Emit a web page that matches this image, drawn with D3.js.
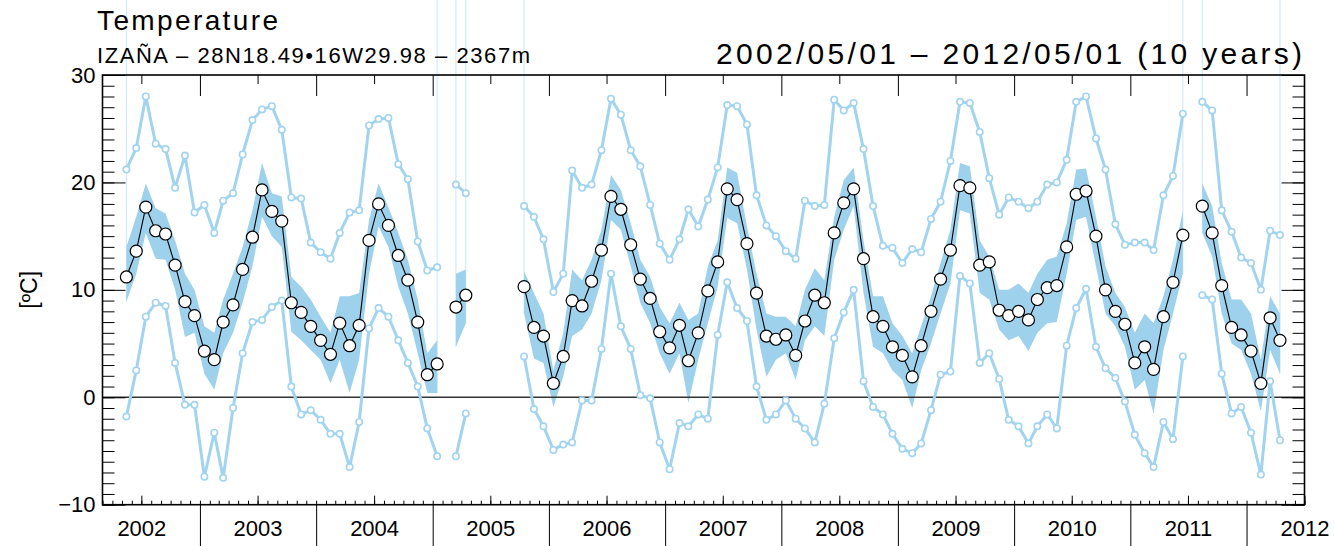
<!DOCTYPE html>
<html>
<head>
<meta charset="utf-8">
<script src="https://cdn.jsdelivr.net/npm/d3@7"></script>
<style>
  html, body { margin: 0; padding: 0; background: #fff; }
  svg { display: block; font-family: "Liberation Sans", Arial, sans-serif; }
</style>
</head>
<body>
<svg id="chart" width="1335" height="546"></svg>
<script>
// monthly values, May 2002 .. Apr 2012 (null = no data)
const meanT = [11.2, 13.6, 17.7, 15.5, 15.2, 12.3, 8.9, 7.6, 4.3, 3.5, 7.0, 8.6,
  11.9, 14.9, 19.3, 17.3, 16.4, 8.8, 7.9, 6.6, 5.3, 4.0, 6.9, 4.8,
  6.7, 14.6, 18.0, 16.0, 13.2, 10.9, 7.0, 2.1, 3.1, null, 8.4, 9.5,
  null, null, null, null, null, 10.3, 6.5, 5.7, 1.3, 3.8, 9.0, 8.5,
  10.8, 13.7, 18.7, 17.5, 14.2, 11.0, 9.2, 6.1, 4.6, 6.7, 3.4, 6.0,
  9.9, 12.6, 19.4, 18.4, 14.3, 9.7, 5.7, 5.4, 5.8, 3.9, 7.1, 9.5,
  8.8, 15.3, 18.1, 19.4, 12.9, 7.5, 6.6, 4.7, 3.9, 1.9, 4.8, 8.0,
  11.0, 13.7, 19.7, 19.5, 12.3, 12.6, 8.1, 7.6, 8.0, 7.2, 9.1, 10.2,
  10.4, 14.0, 18.9, 19.2, 15.0, 10.0, 8.0, 6.8, 3.2, 4.7, 2.6, 7.5,
  10.7, 15.1, null, 17.8, 15.3, 10.4, 6.5, 5.8, 4.3, 1.3, 7.4, 5.3];

const bandHi = [14.0, 16.8, 19.9, 17.6, 17.1, 14.6, 11.5, 10.0, 6.6, 6.0, 9.1, 11.5,
  14.0, 17.4, 21.8, 19.0, 18.7, 11.2, 10.3, 9.1, 7.5, 6.0, 9.4, 9.4,
  9.7, 16.5, 19.9, 17.7, 15.3, 12.8, 9.1, 4.1, 5.3, null, 11.5, 11.9,
  null, null, null, null, null, 11.7, 9.7, 7.8, 2.5, 6.0, 11.9, 10.9,
  12.8, 15.6, 20.7, 19.3, 16.2, 12.8, 11.2, 8.4, 6.9, 8.8, 7.2, 7.8,
  12.2, 14.6, 21.4, 20.9, 15.9, 11.5, 7.8, 7.5, 7.5, 6.6, 10.0, 12.0,
  10.9, 16.8, 20.2, 21.4, 14.6, 9.4, 9.4, 6.9, 5.7, 4.1, 6.6, 9.4,
  12.5, 15.6, 21.8, 21.5, 14.6, 13.1, 10.0, 10.0, 10.6, 9.7, 11.5, 12.8,
  13.1, 16.2, 21.2, 21.3, 16.8, 12.2, 9.7, 8.4, 6.0, 7.8, 6.9, 9.4,
  12.8, 17.4, null, 19.9, 17.8, 12.5, 9.1, 9.1, 7.8, 3.5, 9.4, 7.8];

const bandLo = [8.9, 11.5, 15.3, 12.9, 12.8, 10.0, 5.6, 6.0, 2.2, 0.7, 4.1, 6.0,
  8.8, 12.2, 16.8, 15.0, 14.0, 6.1, 5.3, 4.4, 3.5, 1.3, 3.5, 0.4,
  3.5, 11.5, 15.9, 14.0, 10.3, 7.8, 4.1, 0.4, 0.4, null, 4.7, 6.9,
  null, null, null, null, null, 7.8, 3.6, 3.2, -0.9, 1.9, 5.7, 6.3,
  7.8, 10.9, 16.5, 15.6, 12.2, 8.8, 6.9, 4.1, 2.2, 4.1, -0.5, 3.5,
  6.9, 10.3, 16.7, 16.2, 11.9, 6.3, 1.9, 3.5, 4.1, 1.6, 5.3, 6.6,
  5.7, 12.8, 15.6, 17.8, 9.7, 4.7, 4.1, 2.5, 1.6, -1.0, 2.5, 5.0,
  7.8, 10.6, 17.4, 17.1, 9.7, 9.1, 6.3, 5.3, 5.7, 4.3, 6.0, 6.9,
  7.0, 11.5, 16.5, 16.8, 12.2, 7.8, 6.6, 4.7, 0.7, 1.6, -1.5, 4.4,
  7.8, 11.5, null, 15.3, 13.1, 7.8, 5.0, 4.4, 2.2, -1.3, 4.4, 2.2];

const maxT = [21.2, 23.2, 28.0, 23.6, 23.1, 19.5, 22.5, 17.2, 17.9, 15.3, 18.3, 19.0,
  22.6, 25.8, 26.8, 27.1, 24.9, 18.6, 18.5, 14.4, 13.5, 12.9, 15.3, 17.2,
  17.4, 25.3, 25.9, 26.0, 21.7, 20.3, 14.5, 11.8, 12.1, null, 19.8, 19.0,
  null, null, null, null, null, 17.8, 16.8, 14.7, 9.8, 11.5, 21.1, 19.5,
  19.8, 23.0, 27.8, 26.3, 23.0, 21.5, 17.9, 14.3, 12.8, 14.7, 17.5, 15.9,
  18.4, 21.4, 27.2, 27.1, 25.4, 18.8, 16.0, 15.0, 13.6, 12.9, 18.3, 17.8,
  17.9, 27.7, 26.7, 27.4, 23.1, 17.8, 14.1, 13.9, 12.5, 13.8, 13.5, 16.6,
  18.2, 22.0, 27.5, 27.4, 24.7, 20.4, 17.0, 18.6, 18.2, 17.6, 18.2, 19.8,
  20.0, 22.1, 27.5, 28.0, 24.1, 21.2, 16.1, 14.2, 14.4, 14.4, 13.7, 18.8,
  20.6, 26.4, null, 27.5, 26.7, 17.4, 15.4, 13.0, 12.5, 10.0, 15.5, 15.1];

const minT = [-1.8, 2.5, 7.5, 8.8, 8.5, 3.2, -0.7, -0.7, -7.4, -3.3, -7.5, -1.0,
  4.1, 7.0, 7.2, 8.4, 9.0, 1.0, -1.6, -1.2, -2.1, -3.4, -3.4, -6.5,
  -2.3, 6.4, 8.3, 7.5, 5.3, 3.2, 1.0, -2.9, -5.5, null, -5.5, -1.5,
  null, null, null, null, null, 3.8, -1.1, -2.7, -4.9, -4.4, -4.2, -0.3,
  -0.3, 4.5, 11.5, 6.6, 4.5, 0.2, -0.1, -4.2, -6.7, -2.4, -2.7, -1.6,
  -2.0, 5.8, 10.7, 8.3, 7.1, 1.0, -2.1, -1.6, -0.3, -2.0, -2.9, -4.2,
  -0.6, 5.5, 7.9, 10.0, 1.5, -0.9, -1.6, -3.4, -4.8, -5.2, -4.3, -1.2,
  2.1, 2.4, 11.3, 10.6, 3.2, 4.1, 1.7, -2.1, -2.7, -4.3, -2.7, -1.6,
  -2.9, 4.8, 8.3, 10.1, 4.7, 2.7, 1.8, -0.4, -3.5, -5.2, -6.5, -2.3,
  -3.9, 3.8, null, 9.5, 9.1, 2.2, -1.5, -0.9, -3.3, -7.2, 1.5, -4.0];

const yearLabels = ["2002", "2003", "2004", "2005", "2006", "2007", "2008", "2009", "2010", "2011", "2012"];
const yTicks = [-10, 0, 10, 20, 30];

const titleText = "Temperature";
const stationText = "IZAÑA – 28N18.49•16W29.98 – 2367m";
const periodText = "2002/05/01 – 2012/05/01 (10 years)";

const months = meanT.map((v, i) => new Date(2002, 4 + i, 15));
const rows = months.map((d, i) => ({date: d, mean: meanT[i], hi: bandHi[i], lo: bandLo[i], max: maxT[i], min: minT[i]}));

const blue = "#a2d4ef";
const bandBlue = "#9dd1ec";

const svg = d3.select("#chart");
const plotL = 102.5, plotR = 1304.5, plotT = 75, plotB = 504.7;

const x = d3.scaleTime()
  .domain([new Date(2002, 2, 1), new Date(2012, 6, 1)])
  .range([plotL, plotR]);
const y = d3.scaleLinear().domain([-10, 30]).range([plotB, plotT]);

// thin edge lines at the ends of each data segment
const edges = rows.filter((d, i) => d.mean != null &&
  (i === 0 || rows[i - 1].mean == null || i === rows.length - 1 || rows[i + 1].mean == null));
svg.append("g").selectAll("line").data(edges).join("line")
  .attr("x1", d => x(d.date)).attr("x2", d => x(d.date))
  .attr("y1", 0).attr("y2", d => y(d.lo))
  .attr("stroke", "#c9e6f7").attr("stroke-width", 1);

// band
const area = d3.area()
  .defined(d => d.hi != null)
  .x(d => x(d.date)).y0(d => y(d.lo)).y1(d => y(d.hi));
svg.append("path").datum(rows).attr("d", area).attr("fill", bandBlue);

// zero line
svg.append("line")
  .attr("x1", plotL).attr("x2", plotR).attr("y1", y(0)).attr("y2", y(0))
  .attr("stroke", "#333").attr("stroke-width", 1.6);

// max / min lines
for (const key of ["max", "min"]) {
  const line = d3.line().defined(d => d[key] != null).x(d => x(d.date)).y(d => y(d[key]));
  svg.append("path").datum(rows).attr("d", line)
    .attr("fill", "none").attr("stroke", blue).attr("stroke-width", 3).attr("stroke-linejoin", "round");
  svg.append("g").selectAll("circle").data(rows.filter(d => d[key] != null)).join("circle")
    .attr("cx", d => x(d.date)).attr("cy", d => y(d[key])).attr("r", 3.2)
    .attr("fill", "#fff").attr("stroke", blue).attr("stroke-width", 1.6);
}

// mean
const meanLine = d3.line().defined(d => d.mean != null).x(d => x(d.date)).y(d => y(d.mean));
svg.append("path").datum(rows).attr("d", meanLine)
  .attr("fill", "none").attr("stroke", "#000").attr("stroke-width", 1.1);
svg.append("g").selectAll("circle").data(rows.filter(d => d.mean != null)).join("circle")
  .attr("cx", d => x(d.date)).attr("cy", d => y(d.mean)).attr("r", 6)
  .attr("fill", "#fff").attr("stroke", "#000").attr("stroke-width", 1.2);

// axes
const midYears = yearLabels.map(s => new Date(+s, 6, 1));
const yearStarts = yearLabels.slice(1).map(s => new Date(+s, 0, 1));
const allMonths = d3.timeMonth.range(new Date(2002, 2, 1), new Date(2012, 6, 2));

function clean(g) {
  g.select(".domain").remove();
  g.selectAll(".tick line").attr("stroke", "#000").attr("stroke-width", 1);
  return g;
}

// bottom
svg.append("g").attr("transform", `translate(0,${plotB})`)
  .call(d3.axisBottom(x).tickValues(allMonths).tickSize(-4).tickFormat(""))
  .call(clean);
svg.append("g").attr("transform", `translate(0,${plotB})`)
  .call(d3.axisBottom(x).tickValues(yearStarts).tickSize(42).tickFormat(""))
  .call(clean);
svg.append("g").attr("transform", `translate(0,${plotB})`)
  .call(d3.axisBottom(x).tickValues(midYears).tickSize(-9).tickPadding(16)
    .tickFormat((d, i) => yearLabels[i]))
  .call(clean)
  .call(g => g.selectAll("text").attr("fill", "#000").style("font-size", "22px")
    .style("font-family", "'Liberation Sans', Arial, sans-serif"));

// top
svg.append("g").attr("transform", `translate(0,${plotT})`)
  .call(d3.axisTop(x).tickValues(yearStarts).tickSize(-21).tickFormat(""))
  .call(clean);
svg.append("g").attr("transform", `translate(0,${plotT})`)
  .call(d3.axisTop(x).tickValues(midYears.slice(0, -1)).tickSize(-9).tickFormat(""))
  .call(clean);

// left
svg.append("g").attr("transform", `translate(${plotL},0)`)
  .call(d3.axisLeft(y).tickValues(d3.range(-10, 31)).tickSize(-12).tickFormat(""))
  .call(clean);
svg.append("g").attr("transform", `translate(${plotL},0)`)
  .call(d3.axisLeft(y).tickValues(yTicks).tickSize(-23).tickPadding(6)
    .tickFormat(d => d < 0 ? "−" + Math.abs(d) : d))
  .call(clean)
  .call(g => g.selectAll("text").attr("fill", "#000").attr("x", -7).style("font-size", "22px")
    .style("font-family", "'Liberation Sans', Arial, sans-serif"));

// right
svg.append("g").attr("transform", `translate(${plotR},0)`)
  .call(d3.axisRight(y).tickValues(d3.range(-10, 31)).tickSize(-12).tickFormat(""))
  .call(clean);
svg.append("g").attr("transform", `translate(${plotR},0)`)
  .call(d3.axisRight(y).tickValues(yTicks).tickSize(-23).tickFormat(""))
  .call(clean);

// frame
svg.append("rect")
  .attr("x", plotL).attr("y", plotT).attr("width", plotR - plotL).attr("height", plotB - plotT)
  .attr("fill", "none").attr("stroke", "#000").attr("stroke-width", 1.6);

// texts
svg.append("text").attr("x", 97).attr("y", 30)
  .attr("textLength", 181).attr("lengthAdjust", "spacing")
  .style("font-size", "28px").text(titleText);
svg.append("text").attr("x", 97).attr("y", 63)
  .attr("textLength", 433).attr("lengthAdjust", "spacing")
  .style("font-size", "22px").text(stationText);
svg.append("text").attr("x", 716).attr("y", 64)
  .attr("textLength", 586).attr("lengthAdjust", "spacing")
  .style("font-size", "30px").text(periodText);
svg.append("text")
  .attr("transform", `translate(37,${y(10)}) rotate(-90)`)
  .attr("text-anchor", "middle")
  .style("font-size", "23px").text("[ºC]");
</script>
</body>
</html>
